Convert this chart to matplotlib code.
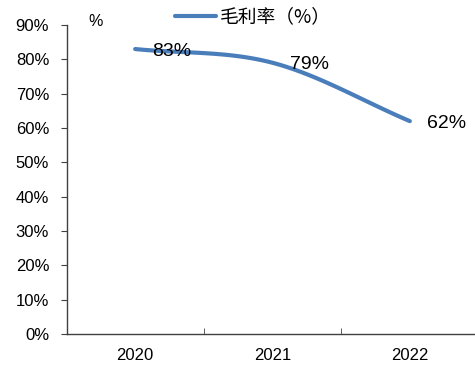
import matplotlib.pyplot as plt
import numpy as np

plt.rcParams['font.family'] = ['Liberation Sans', 'Noto Sans CJK SC', 'DejaVu Sans']

years = ["2020", "2021", "2022"]
margin = [83, 79, 62]
y_ticks = [0, 10, 20, 30, 40, 50, 60, 70, 80, 90]
line_color = "#4a7ebb"


def smooth(xs, ys, n=40):
    # Catmull-Rom spline through the points, like a smoothed office line
    xs = np.asarray(xs, float)
    ys = np.asarray(ys, float)
    px = np.concatenate([[2 * xs[0] - xs[1]], xs, [2 * xs[-1] - xs[-2]]])
    py = np.concatenate([[2 * ys[0] - ys[1]], ys, [2 * ys[-1] - ys[-2]]])
    out_x, out_y = [], []
    for i in range(1, len(px) - 2):
        t = np.linspace(0, 1, n)
        for arr, out in ((px, out_x), (py, out_y)):
            p0, p1, p2, p3 = arr[i - 1], arr[i], arr[i + 1], arr[i + 2]
            seg = 0.5 * ((2 * p1) + (-p0 + p2) * t
                         + (2 * p0 - 5 * p1 + 4 * p2 - p3) * t ** 2
                         + (-p0 + 3 * p1 - 3 * p2 + p3) * t ** 3)
            out.extend(seg)
    return np.array(out_x), np.array(out_y)


fig = plt.figure(figsize=(4.75, 3.65), dpi=100)
ax = fig.add_axes([66.5 / 475, 31 / 365, 412 / 475, 309 / 365])

x = np.arange(len(years))
sx, sy = smooth(x, margin)
ax.plot(sx, sy, color=line_color, lw=3, solid_capstyle='round', label="毛利率（%）")

for xi, v in zip(x, margin):
    ax.annotate(f"{v}%", (xi, v), xytext=(37, -2), textcoords='offset pixels',
                ha='center', va='center', fontsize=14)

ax.set_xlim(-0.5, 2.5)
ax.set_ylim(0, 90)
ax.set_yticks(y_ticks)
ax.set_yticklabels([f"{t}%" for t in y_ticks], fontsize=12)
ax.set_xticks(x)
ax.set_xticklabels(years, fontsize=12)
ax.tick_params(axis='x', length=0, pad=10)
ax.set_xticks([0.5, 1.5], minor=True)
ax.tick_params(axis='x', which='minor', direction='in', length=4, color='#404040')
ax.tick_params(axis='y', direction='out', length=4, color='#404040', pad=8.5)

for side in ('top', 'right'):
    ax.spines[side].set_visible(False)
for side in ('left', 'bottom'):
    ax.spines[side].set_color('#404040')
    ax.spines[side].set_linewidth(1)

fig.text(96 / 475, 1 - 22 / 365, "%", fontsize=11.5, ha='center', va='center')
fig.legend(loc='center', bbox_to_anchor=(253 / 475, 1 - 17 / 365), frameon=False,
           handlelength=2.2, handletextpad=0.2,
           prop={'family': ['Noto Sans CJK SC', 'DejaVu Sans'], 'size': 13.5})

fig.savefig("out.png", dpi=100)
